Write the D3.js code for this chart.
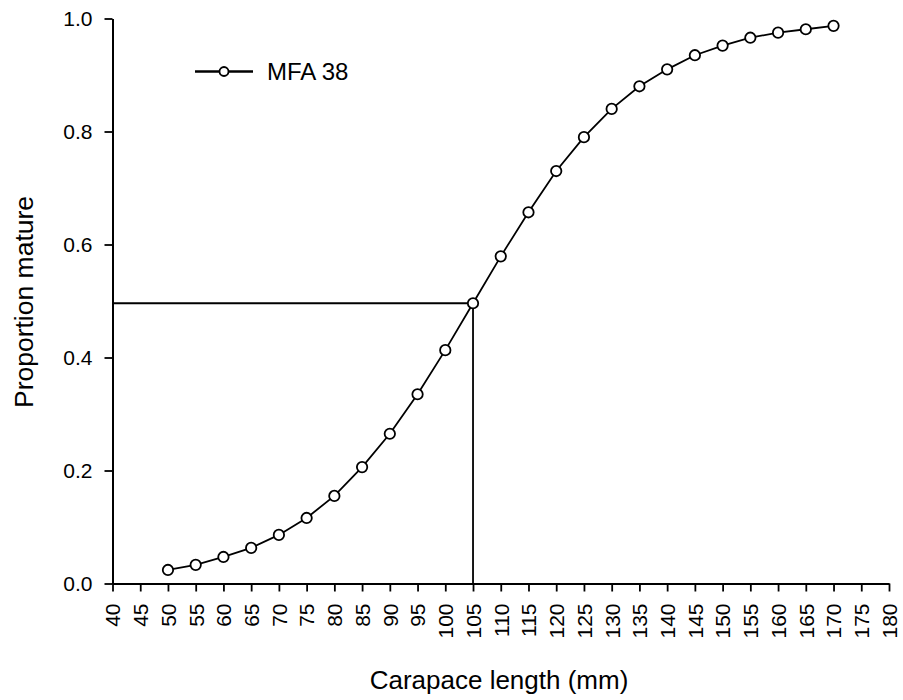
<!DOCTYPE html>
<html>
  <head>
    <meta charset="utf-8">
    <title>Proportion mature</title>
    <script src="https://d3js.org/d3.v7.min.js"></script>
    <style>
      body { margin: 0; background: #fff; }
      text { font-family: Arial, "Liberation Sans", sans-serif; fill: #000; }
    </style>
  </head>
  <body>
    <div id="chart"></div>
    <script>
      // carapace length classes (mm) and fitted proportion mature
      const lengths = [50, 55, 60, 65, 70, 75, 80, 85, 90, 95, 100, 105, 110, 115, 120,
                       125, 130, 135, 140, 145, 150, 155, 160, 165, 170];
      const proportions = [0.024, 0.033, 0.047, 0.063, 0.086, 0.116, 0.155, 0.206, 0.265, 0.335,
                           0.413, 0.496, 0.579, 0.657, 0.730, 0.790, 0.840, 0.880, 0.910, 0.935,
                           0.952, 0.966, 0.975, 0.981, 0.987];
      const xTicks = d3.range(40, 181, 5);
      const yTicks = [0, 0.2, 0.4, 0.6, 0.8, 1.0];
      const l50 = 105;
      const p50 = 0.496;
      const seriesName = "MFA 38";

      const width = 903, height = 700;
      const margin = {top: 18.5, right: 14, bottom: 116.5, left: 112.5};

      const svg = d3.select("#chart")
        .append("svg")
        .attr("width", width)
        .attr("height", height);

      const x = d3.scaleLinear()
        .domain([40, 180])
        .range([margin.left, width - margin.right]);
      const y = d3.scaleLinear()
        .domain([0, 1])
        .range([height - margin.bottom, margin.top]);

      // x axis
      const xAxis = svg.append("g")
        .attr("transform", `translate(0,${height - margin.bottom})`)
        .call(d3.axisBottom(x).tickValues(xTicks).tickSize(8).tickSizeOuter(0));
      xAxis.select(".domain").attr("stroke-width", 2);
      xAxis.selectAll(".tick line").attr("stroke-width", 1.8);
      xAxis.selectAll(".tick text")
        .attr("font-size", 21)
        .attr("transform", "rotate(-90)")
        .attr("text-anchor", "end")
        .attr("x", -20)
        .attr("y", 0)
        .attr("dy", "0.35em");

      // y axis
      const yAxis = svg.append("g")
        .attr("transform", `translate(${margin.left},0)`)
        .call(d3.axisLeft(y).tickValues(yTicks).tickFormat(d3.format(".1f")).tickSize(8).tickSizeOuter(0).tickPadding(12));
      yAxis.select(".domain").attr("stroke-width", 2);
      yAxis.selectAll(".tick line").attr("stroke-width", 1.8);
      yAxis.selectAll(".tick text").attr("font-size", 21);

      // L50 reference lines
      svg.append("path")
        .attr("d", d3.line()([[x(40), y(p50)], [x(l50), y(p50)], [x(l50), y(0)]]))
        .attr("fill", "none")
        .attr("stroke", "#000")
        .attr("stroke-width", 1.8);

      // curve
      const pts = lengths.map((d, i) => [d, proportions[i]]);
      svg.append("path")
        .datum(pts)
        .attr("d", d3.line().x(d => x(d[0])).y(d => y(d[1])))
        .attr("fill", "none")
        .attr("stroke", "#000")
        .attr("stroke-width", 1.8);

      svg.selectAll("circle.pt")
        .data(pts)
        .join("circle")
        .attr("class", "pt")
        .attr("cx", d => x(d[0]))
        .attr("cy", d => y(d[1]))
        .attr("r", 5.2)
        .attr("fill", "#fff")
        .attr("stroke", "#000")
        .attr("stroke-width", 1.8);

      // legend
      const lg = svg.append("g").attr("transform", "translate(195,71.5)");
      lg.append("line")
        .attr("x1", 0).attr("x2", 58)
        .attr("stroke", "#000").attr("stroke-width", 2.5);
      lg.append("circle")
        .attr("cx", 29).attr("r", 4.5)
        .attr("fill", "#fff").attr("stroke", "#000").attr("stroke-width", 1.8);
      lg.append("text")
        .attr("x", 72).attr("dy", "0.35em")
        .attr("font-size", 24)
        .text(seriesName);

      // axis titles
      svg.append("text")
        .attr("x", 499)
        .attr("y", 689)
        .attr("text-anchor", "middle")
        .attr("font-size", 26)
        .text("Carapace length (mm)");
      svg.append("text")
        .attr("transform", `translate(33,302) rotate(-90)`)
        .attr("text-anchor", "middle")
        .attr("font-size", 26.5)
        .text("Proportion mature");
    </script>
  </body>
</html>
